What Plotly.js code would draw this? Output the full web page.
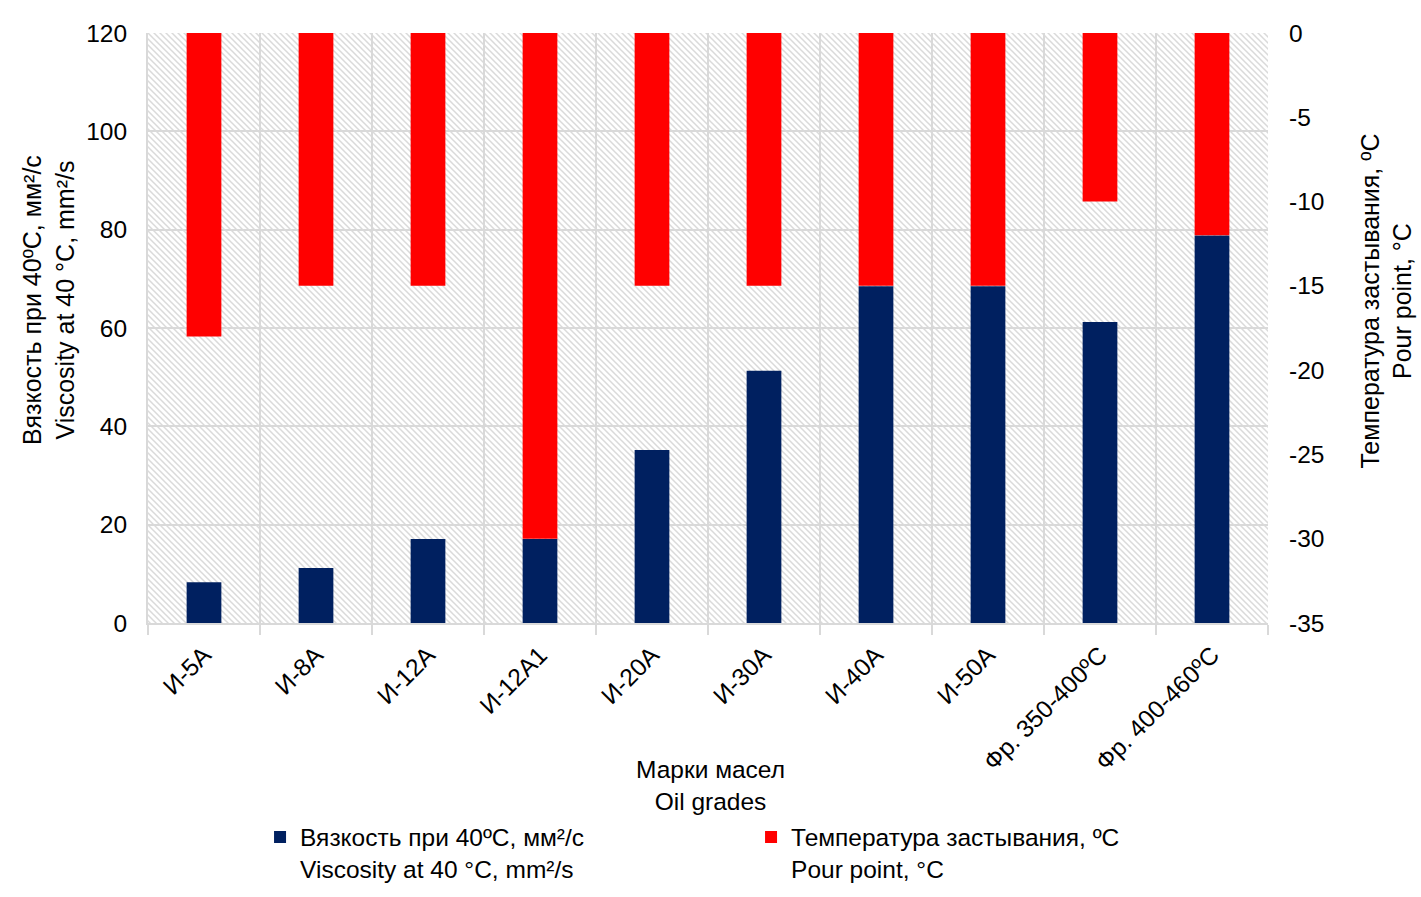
<!DOCTYPE html>
<html>
<head>
<meta charset="utf-8">
<script src="https://cdn.plot.ly/plotly-3.0.1.min.js"></script>
<style>
html,body{margin:0;padding:0;background:#fff;}
#chart{width:1421px;height:897px;}
</style>
</head>
<body>
<div id="chart"></div>
<script>
const categories = ['И-5А','И-8А','И-12А','И-12А1','И-20А','И-30А','И-40А','И-50А','Фр. 350-400ºC','Фр. 400-460ºC'];
const viscosity = [8.3, 11.2, 17.1, 17.1, 35.2, 51.3, 68.5, 68.5, 61.2, 78.8];
const pourPoint = [-18, -15, -15, -30, -15, -15, -15, -15, -10, -12];
const leftTicks = [0, 20, 40, 60, 80, 100, 120];
const rightTicks = [0, -5, -10, -15, -20, -25, -30, -35];

const nameVisc = 'Вязкость при 40ºC, мм²/с<br>Viscosity at 40 °C, mm²/s';
const namePour = 'Температура застывания, ºC<br>Pour point, °C';
const xTitle = 'Марки масел<br>Oil grades';
const yTitle = 'Вязкость при 40ºC, мм²/с<br>Viscosity at 40 °C, mm²/s';
const y2Title = 'Температура застывания, ºC<br>Pour point, °C';

const hatchSvg = '<svg xmlns="http://www.w3.org/2000/svg" width="1120" height="590" viewBox="0 0 1120 590" preserveAspectRatio="none">' +
  '<defs><pattern id="h" width="6" height="6" patternUnits="userSpaceOnUse">' +
  '<path d="M0,0L6,6M-1,5L1,7M5,-1L7,1" stroke="#dadada" stroke-width="1.5"/></pattern></defs>' +
  '<rect width="1120" height="590" fill="#ffffff"/><rect width="1120" height="590" fill="url(#h)"/></svg>';
const hatchUri = 'data:image/svg+xml;charset=utf-8,' + encodeURIComponent(hatchSvg);

const font = {family: 'Liberation Sans, Arial, sans-serif', color: '#000000'};
const F = (s) => Object.assign({size: s}, font);

const traces = [
  {
    type: 'bar', x: categories, y: viscosity, name: nameVisc,
    marker: {color: '#002060'}, width: 0.31, yaxis: 'y', hoverinfo: 'x+y'
  },
  {
    type: 'bar', x: categories, y: pourPoint, base: 0, name: namePour,
    marker: {color: '#FF0000'}, width: 0.31, yaxis: 'y2', hoverinfo: 'x+y'
  }
];

const layout = {
  width: 1421, height: 897,
  margin: {l: 148, r: 153, t: 33, b: 274},
  paper_bgcolor: '#ffffff',
  plot_bgcolor: '#ffffff',
  barmode: 'overlay',
  font: F(24.5),
  showlegend: true,
  legend: {
    orientation: 'h', xref: 'container', yref: 'container',
    x: 0.183, xanchor: 'left', y: 0.092, yanchor: 'top',
    font: F(24.5), valign: 'top',
    entrywidth: 446, entrywidthmode: 'pixels', traceorder: 'normal',
    itemclick: false, itemdoubleclick: false
  },
  xaxis: {
    type: 'category',
    tickson: 'boundaries',
    ticks: 'outside', ticklen: 10, tickwidth: 2, tickcolor: '#d9d9d9',
    showgrid: true, gridcolor: '#d9d9d9', gridwidth: 2,
    showline: true, linecolor: '#d9d9d9', linewidth: 2,
    tickangle: -45, ticklabelstandoff: 6,
    tickfont: F(24.5),
    automargin: false, fixedrange: true
  },
  yaxis: {
    range: [0, 120], tickvals: leftTicks, ticktext: leftTicks.map(String),
    showgrid: true, gridcolor: '#d9d9d9', gridwidth: 2,
    showline: true, linecolor: '#d9d9d9', linewidth: 2,
    zeroline: false, ticks: '', ticklabelstandoff: 14,
    tickfont: F(24.5),
    automargin: false, fixedrange: true
  },
  yaxis2: {
    overlaying: 'y', side: 'right',
    range: [-35, 0], tickvals: rightTicks, ticktext: rightTicks.map(String),
    showgrid: false, zeroline: false, showline: false, ticks: '', ticklabelstandoff: 20,
    tickfont: F(24.5),
    automargin: false, fixedrange: true
  },
  annotations: [
    {text: xTitle, xref: 'paper', yref: 'paper', x: 0.5022, y: -0.276,
     xanchor: 'center', yanchor: 'middle', showarrow: false, font: F(24.5), align: 'center'},
    {text: yTitle, xref: 'paper', yref: 'paper', x: -0.0884, y: 0.5475, textangle: -90,
     xanchor: 'center', yanchor: 'middle', showarrow: false, font: F(25), align: 'center'},
    {text: y2Title, xref: 'paper', yref: 'paper', x: 1.1054, y: 0.545, textangle: -90,
     xanchor: 'center', yanchor: 'middle', showarrow: false, font: F(25), align: 'center'}
  ],
  images: [{
    source: hatchUri, xref: 'paper', yref: 'paper', x: 0, y: 1, sizex: 1, sizey: 1,
    xanchor: 'left', yanchor: 'top', sizing: 'stretch', layer: 'below'
  }]
};

Plotly.newPlot('chart', traces, layout, {displayModeBar: false, staticPlot: false});
</script>
</body>
</html>
